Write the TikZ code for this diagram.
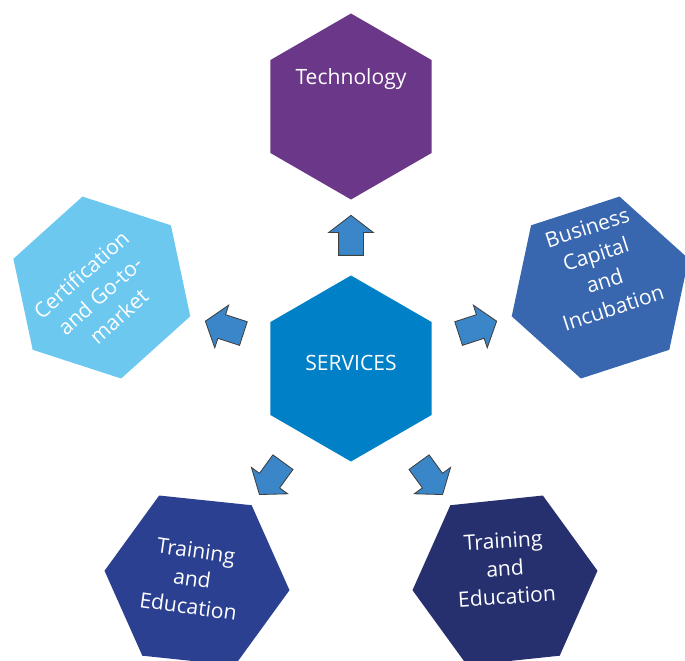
\documentclass[tikz,border=0pt]{standalone}
\usepackage{fontspec}
\setmainfont{Open Sans}
\usepackage{tikz}
\usetikzlibrary{shapes.geometric,shapes.arrows,calc}
\definecolor{servblue}{RGB}{0,128,198}
\definecolor{techpurple}{RGB}{107,55,137}
\definecolor{certblue}{RGB}{109,200,240}
\definecolor{busblue}{RGB}{56,103,176}
\definecolor{trainblue}{RGB}{44,64,145}
\definecolor{trainnavy}{RGB}{38,48,110}
\definecolor{arrowblue}{RGB}{58,134,200}
\tikzset{
 hx/.style
  = {regular polygon, regular polygon sides=6, minimum size=4.65cm, inner sep=0pt},
 ht/.style
  = {text=white, align=center, font=\fontsize{15}{20}\selectfont},
 ar/.style
  = {single arrow, draw=black!75, line width=0.6pt, fill=arrowblue, minimum height=1cm,
     single arrow head extend=0.25cm, single arrow tip angle=105,
     inner xsep=0pt, inner ysep=0.3cm},
}
\begin{document}
\begin{tikzpicture}

\clip (-8.775,-7.2875) rectangle (8.35,9.2125);

% Services
\node[hx, rotate=30, fill=servblue] (serv) at (0,0) {};
\node[ht] (servtext) at ([yshift=0.15cm]serv.center) {SERVICES};

% Technology
\node[hx, rotate=30, fill=techpurple] (tech) at (90:6.55) {};
\node[ht] (techtext) at ([yshift=0.68cm]tech.center) {Technology};

% Certification
\node[hx, rotate=42, fill=certblue] (cert) at (162:6.55) {};
\node[ht, rotate=42] (certtext) at ([xshift=-0.05cm,yshift=-0.2cm]cert.center) {Certification\\and Go-to-\\market};

% Business
\node[hx, rotate=18, fill=busblue] (bus) at (18:6.55) {};
\node[ht, rotate=18] (bustext) at ([yshift=0.5cm]bus.center) {Business\\Capital\\and\\Incubation};

% Training (left)
\node[hx, rotate=54, fill=trainblue] (trainl) at (234:6.55) {};
\node[ht, rotate=-8] (trainltext) at ([xshift=-0.12cm,yshift=0.05cm]trainl.center) {Training\\and\\Education};

% Training (right)
\node[hx, rotate=6, fill=trainnavy] (trainr) at (306:6.55) {};
\node[ht, rotate=4] (trainrtext) at ([yshift=0.3cm]trainr.center) {Training\\and\\Education};

% Arrows
\node[ar, rotate=90] (totech) at ($(serv)!0.49!(tech)$) {};
\node[ar, rotate=162] (tocert) at ($(serv)!0.49!(cert)$) {};
\node[ar, rotate=18] (tobus) at ($(serv)!0.49!(bus)$) {};
\node[ar, rotate=234] (totrainl) at ($(serv)!0.5!(trainl)$) {};
\node[ar, rotate=306] (totrainr) at ($(serv)!0.5!(trainr)$) {};

\end{tikzpicture}
\end{document}
